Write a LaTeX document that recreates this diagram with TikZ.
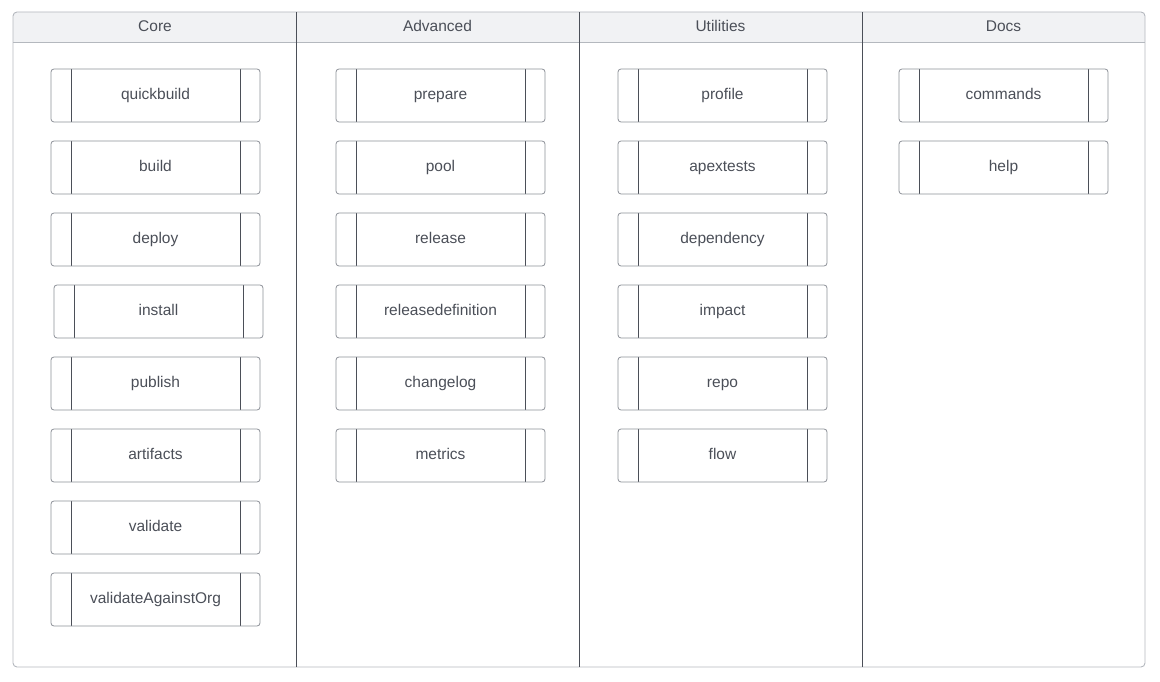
\documentclass[tikz,border=0pt]{standalone}
\usepackage{fontspec}
\setmainfont{Liberation Sans}
\usetikzlibrary{positioning}

\definecolor{lanegray}{HTML}{B4B8BE}
\definecolor{headfill}{HTML}{F1F2F4}
\definecolor{inkgray}{HTML}{4B4F58}
\definecolor{boxgray}{HTML}{8C9097}

\tikzset{
  cmd/.style={draw=boxgray, line width=0.8pt, rounded corners=3pt,
    minimum width=209pt, minimum height=53pt, inner sep=0pt, outer sep=0pt,
    text height=11pt, text depth=3pt,
    text=inkgray, font=\fontsize{15.5}{18}\selectfont,
    path picture={
      \draw[inkgray, line width=0.8pt]
        ([xshift=20pt]path picture bounding box.south west) -- ([xshift=20pt]path picture bounding box.north west)
        ([xshift=-20pt]path picture bounding box.south east) -- ([xshift=-20pt]path picture bounding box.north east);
    }},
  lanehead/.style={text=inkgray, font=\fontsize{15.5}{18}\selectfont},
  node distance=19pt
}

\begin{document}
\begin{tikzpicture}[x=1pt,y=1pt]
  \useasboundingbox (0,0) rectangle (1160,681);

  % lanes
  \fill[headfill] (13,639) [rounded corners=4pt] -- (13,669) -- (1145,669) [sharp corners] -- (1145,639) -- cycle;
  \draw[lanegray, line width=0.9pt] (13,639) -- (1145,639);
  \draw[lanegray, line width=0.9pt, rounded corners=4pt] (13,14) rectangle (1145,669);
  \foreach \x in {296,579,862}
    \draw[inkgray, line width=0.8pt] (\x,14) -- (\x,669);

  \node[lanehead] (hcore) at (155,655) {Core};
  \node[lanehead] (hadv) at (437.5,655) {Advanced};
  \node[lanehead] (hutil) at (720.5,655) {Utilities};
  \node[lanehead] (hdocs) at (1003.5,655) {Docs};

  % Core
  \node[cmd] (quickbuild) at (155.5,585.5) {quickbuild};
  \node[cmd, below=of quickbuild] (build) {build};
  \node[cmd, below=of build] (deploy) {deploy};
  \node[cmd, below=of deploy, xshift=3pt] (install) {install};
  \node[cmd, below=of install, xshift=-3pt] (publish) {publish};
  \node[cmd, below=of publish] (artifacts) {artifacts};
  \node[cmd, below=of artifacts] (validate) {validate};
  \node[cmd, below=of validate] (validateorg) {validateAgainstOrg};

  % Advanced
  \node[cmd] (prepare) at (440.5,585.5) {prepare};
  \node[cmd, below=of prepare] (pool) {pool};
  \node[cmd, below=of pool] (release) {release};
  \node[cmd, below=of release] (releasedef) {releasedefinition};
  \node[cmd, below=of releasedef] (changelog) {changelog};
  \node[cmd, below=of changelog] (metrics) {metrics};

  % Utilities
  \node[cmd] (profile) at (722.5,585.5) {profile};
  \node[cmd, below=of profile] (apextests) {apextests};
  \node[cmd, below=of apextests] (dependency) {dependency};
  \node[cmd, below=of dependency] (impact) {impact};
  \node[cmd, below=of impact] (repo) {repo};
  \node[cmd, below=of repo] (flow) {flow};

  % Docs
  \node[cmd] (commands) at (1003.5,585.5) {commands};
  \node[cmd, below=of commands] (help) {help};
\end{tikzpicture}
\end{document}
